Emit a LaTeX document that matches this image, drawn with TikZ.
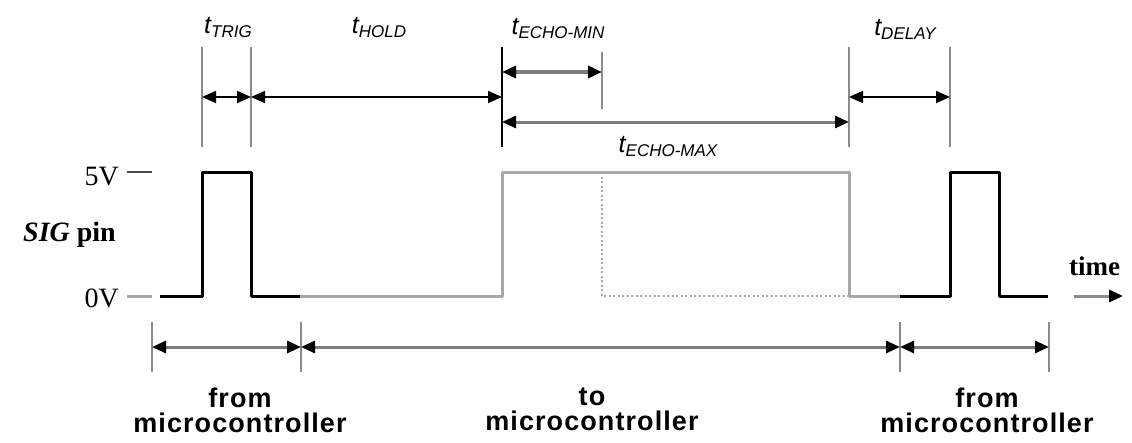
\documentclass[tikz,border=0pt]{standalone}
\usepackage{fontspec}
\setmainfont{Liberation Sans}
\newfontfamily\timesfont{Liberation Serif}
\newfontfamily\mcufont[LetterSpace=4]{Liberation Sans}
\usetikzlibrary{arrows.meta}

\definecolor{siggray}{HTML}{A8A8A8}
\definecolor{dimgray}{HTML}{8C8C8C}
\definecolor{spangray}{HTML}{7C7C7C}

% t with a subscript, as in the timing labels
\newcommand{\tsub}[1]{{\fontsize{25}{25}\selectfont\itshape t}%
  \raisebox{-4pt}{\fontsize{17}{17}\selectfont\itshape #1}}

\begin{document}
\begin{tikzpicture}[x=1pt, y=-1pt,
  >={Triangle[length=14pt,width=12pt,color=black]},
  hi/.style={line width=3pt, line join=round, black},
  lo/.style={line width=3pt, line join=round, siggray},
  echodots/.style={line width=2.5pt, siggray, dash pattern=on 2pt off 2.5pt},
  guide/.style={line width=2pt, dimgray},
  timespan/.style={<->, line width=1.8pt, black},
  echospan/.style={<->, line width=3pt, spangray},
  mcuspan/.style={<->, line width=3pt, spangray},
  levellabel/.style={anchor=base east, inner sep=0pt, font=\timesfont\fontsize{28}{28}\selectfont},
  tlabel/.style={anchor=base, inner sep=0pt},
  mculabel/.style={anchor=north, inner sep=0pt, align=center,
    font=\mcufont\bfseries\fontsize{27}{25}\selectfont}]

  \useasboundingbox (0,0) rectangle (1132,442);

  %=====================================================================
  % Signal levels and the SIG pin waveform
  %=====================================================================
  \node[levellabel] (five) at (119,185) {5V};
  \node[levellabel] (zero) at (119,307) {0V};
  \node[levellabel] (sigpin) at (116,241) {\textbf{\textit{SIG} pin}};
  % level ticks
  \draw[line width=1.5pt, black!70] (127,172) -- (152,172);
  \draw[line width=3pt, siggray] (127,296) -- (152,296);

  % trigger pulse from the microcontroller
  \draw[hi] (160,296) -- (202,296) -- (202,172) -- (251,172) -- (251,296) -- (300,296);
  % echo pulse back to the microcontroller
  \draw[lo] (300,296) -- (502,296) -- (502,172) -- (849,172) -- (849,296) -- (900,296);
  % shortest echo, dotted
  \draw[echodots] (602,172) -- (602,296) -- (849,296);
  % next trigger pulse
  \draw[hi] (900,296) -- (950,296) -- (950,172) -- (999,172) -- (999,296) -- (1048,296);

  % time axis
  \node[anchor=base west, inner sep=0pt, font=\timesfont\bfseries\fontsize{27}{27}\selectfont]
    (timelbl) at (1069,275) {time};
  \coordinate (time0) at (1074,296);
  \coordinate (time1) at (1123,296);
  \draw[->, line width=3pt, dimgray] (time0) -- (time1);

  %=====================================================================
  % Timing marks above the waveform
  %=====================================================================
  \draw[guide] (202,47) -- (202,147);
  \draw[guide] (251,47) -- (251,147);
  \draw[line width=2pt, black] (502,47) -- (502,147);
  \draw[guide] (602,52) -- (602,109);
  \draw[guide] (849,47) -- (849,147);
  \draw[guide] (950,47) -- (950,147);

  \coordinate (trig0) at (202,97);
  \coordinate (trig1) at (251,97);
  \coordinate (hold1) at (502,97);
  \coordinate (min0) at (502,72);
  \coordinate (min1) at (602,72);
  \coordinate (max0) at (502,122);
  \coordinate (max1) at (849,122);
  \coordinate (delay0) at (849,97);
  \coordinate (delay1) at (950,97);

  \draw[timespan] (trig0) -- (trig1);
  \draw[timespan] (trig1) -- (hold1);
  \draw[echospan, line width=3.5pt] (min0) -- (min1);
  \draw[echospan] (max0) -- (max1);
  \draw[timespan] (delay0) -- (delay1);

  \node[tlabel] (ttrig) at (228,33) {\tsub{TRIG}};
  \node[tlabel] (thold) at (379,33) {\tsub{HOLD}};
  \node[tlabel] (techomin) at (558,34) {\tsub{ECHO-MIN}};
  \node[tlabel] (techomax) at (668,152) {\tsub{ECHO-MAX}};
  \node[tlabel] (tdelay) at (905,35) {\tsub{DELAY}};

  %=====================================================================
  % Who drives the pin
  %=====================================================================
  \draw[guide] (152,322) -- (152,372);
  \draw[guide] (301,322) -- (301,372);
  \draw[guide] (900,322) -- (900,372);
  \draw[guide] (1049,322) -- (1049,372);

  \coordinate (out0) at (152,347);
  \coordinate (out1) at (301,347);
  \coordinate (in1) at (900,347);
  \coordinate (next1) at (1049,347);

  \draw[mcuspan] (out0) -- (out1);
  \draw[mcuspan] (out1) -- (in1);
  \draw[mcuspan] (in1) -- (next1);

  \node[mculabel] (frommcu) at (240,388) {from\\microcontroller};
  \node[mculabel] (tomcu) at (592,388) {to\\microcontroller};
  \node[mculabel] (frommcu2) at (987,388) {from\\microcontroller};

\end{tikzpicture}
\end{document}
